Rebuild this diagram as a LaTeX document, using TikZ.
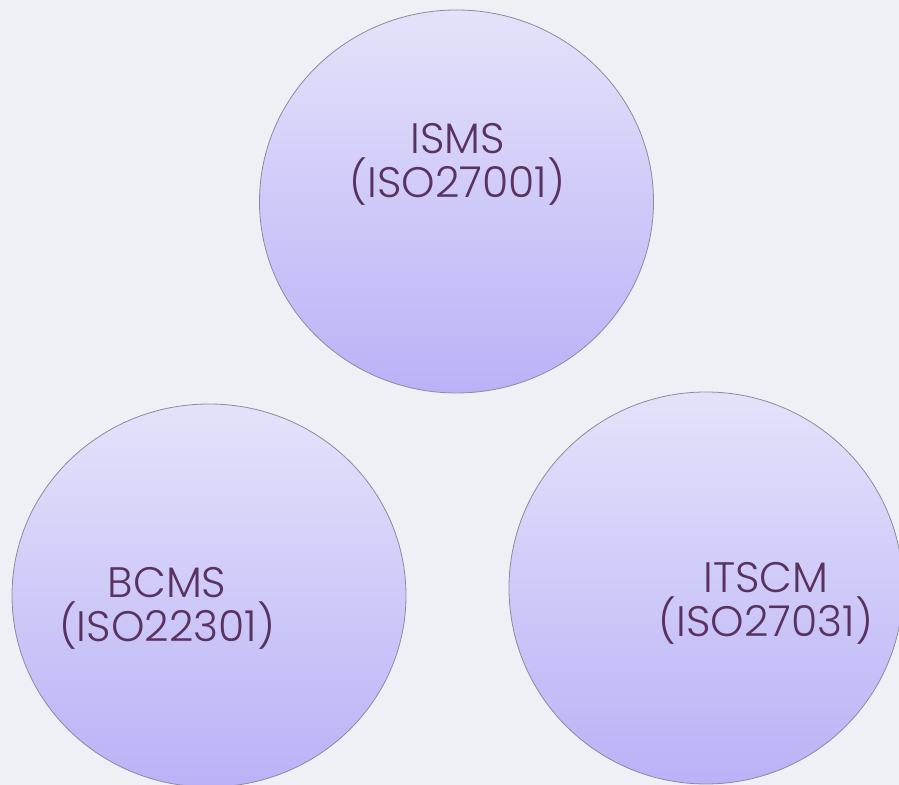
\documentclass[tikz,border=0pt]{standalone}
\usepackage{fontspec}
\setmainfont{Poppins}[UprightFont=* Light]
\usetikzlibrary{shapes.geometric}

\definecolor{bgcol}{RGB}{239,240,245}
\definecolor{disctop}{RGB}{228,226,250}
\definecolor{discbot}{RGB}{185,178,247}
\definecolor{discline}{RGB}{140,138,155}
\definecolor{txtcol}{RGB}{90,50,95}

\begin{document}
\begin{tikzpicture}[x=0.5pt,y=0.5pt,
	disc/.style={ellipse,draw=discline,line width=0.4pt,top color=disctop,bottom color=discbot,inner sep=0pt,minimum width=197pt,minimum height=191.5pt},
	label/.style={text=txtcol,align=center,anchor=base,inner sep=0pt,font=\fontsize{21.3}{22.3}\selectfont}]
		\fill[bgcol] (0,0) rectangle (899,785);
		\useasboundingbox (0,0) rectangle (899,785);

		\node[disc]								(isms)	at (456.5,583.5)	{};
		\node[disc]								(bcms)	at (209,189.5)		{};
		\node[disc,minimum height=196pt]		(itscm)	at (706,197)		{};

		\node[label]	(isms-txt)	at (457.5,587)	{ISMS\\(ISO27001)};
		\node[label]	(bcms-txt)	at (167,143)	{BCMS\\(ISO22301)};
		\node[label]	(itscm-txt)	at (766,148)	{ITSCM\\(ISO27031)};
	\end{tikzpicture}
\end{document}
